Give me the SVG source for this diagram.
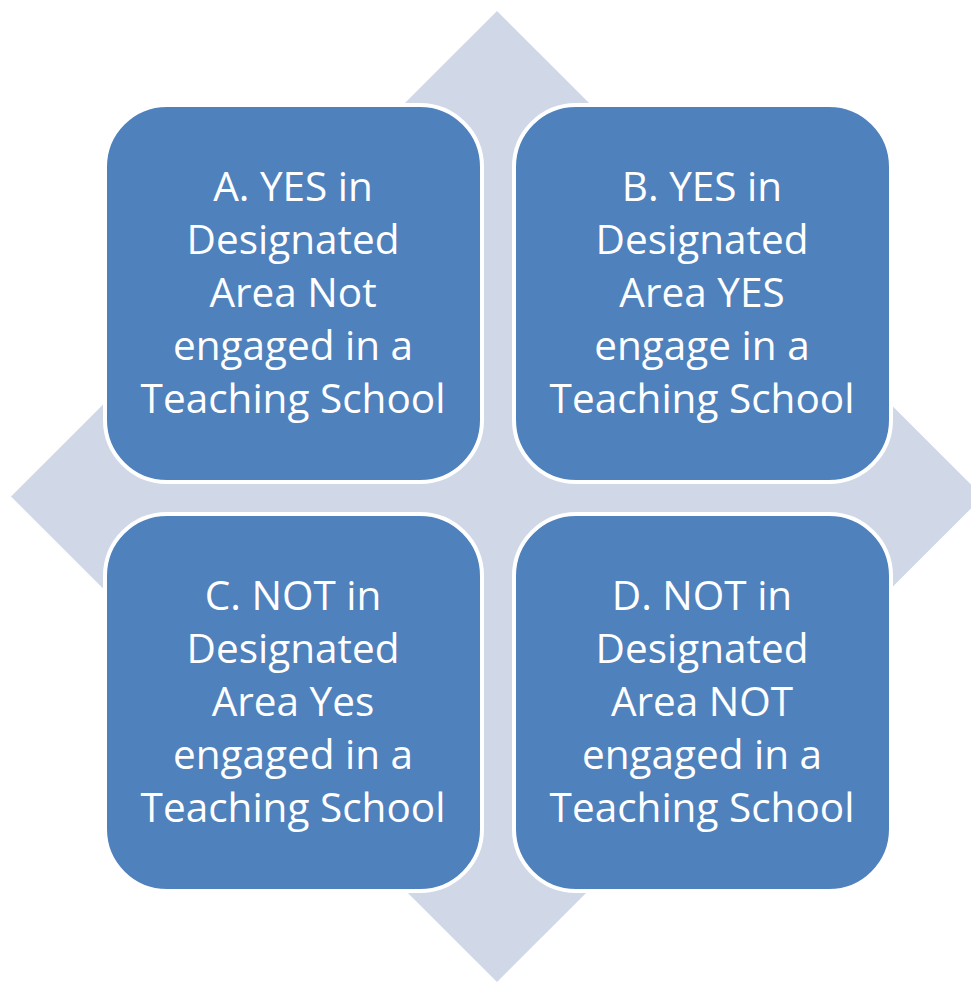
<svg xmlns="http://www.w3.org/2000/svg" width="971" height="982" viewBox="0 0 971 982">
<style>
.box{fill:#4F81BD;stroke:#FFFFFF;stroke-width:4}
.t{font-family:"Open Sans","Liberation Sans",sans-serif;font-size:40.5px;fill:#FFFFFF;text-anchor:middle}
</style>
<rect width="971" height="982" fill="#FFFFFF"/>
<polygon id="diamond" points="497,11 983,496.5 497,982 11,496.5" fill="#D0D8E8"/>
<g id="connectors"></g>
<g id="nodeA">
<rect class="box" x="105" y="105" width="377" height="377" rx="62"/>
<text class="t"><tspan x="293" y="201">A. YES in</tspan><tspan x="293" y="254">Designated</tspan><tspan x="293" y="307">Area Not</tspan><tspan x="293" y="360">engaged in a</tspan><tspan x="293" y="413">Teaching School</tspan></text>
</g>
<g id="nodeB">
<rect class="box" x="514" y="105" width="377" height="377" rx="62"/>
<text class="t"><tspan x="702" y="201">B. YES in</tspan><tspan x="702" y="254">Designated</tspan><tspan x="702" y="307">Area YES</tspan><tspan x="702" y="360">engage in a</tspan><tspan x="702" y="413">Teaching School</tspan></text>
</g>
<g id="nodeC">
<rect class="box" x="105" y="514" width="377" height="377" rx="62"/>
<text class="t"><tspan x="293" y="610">C. NOT in</tspan><tspan x="293" y="663">Designated</tspan><tspan x="293" y="716">Area Yes</tspan><tspan x="293" y="769">engaged in a</tspan><tspan x="293" y="822">Teaching School</tspan></text>
</g>
<g id="nodeD">
<rect class="box" x="514" y="514" width="377" height="377" rx="62"/>
<text class="t"><tspan x="702" y="610">D. NOT in</tspan><tspan x="702" y="663">Designated</tspan><tspan x="702" y="716">Area NOT</tspan><tspan x="702" y="769">engaged in a</tspan><tspan x="702" y="822">Teaching School</tspan></text>
</g>
</svg>
